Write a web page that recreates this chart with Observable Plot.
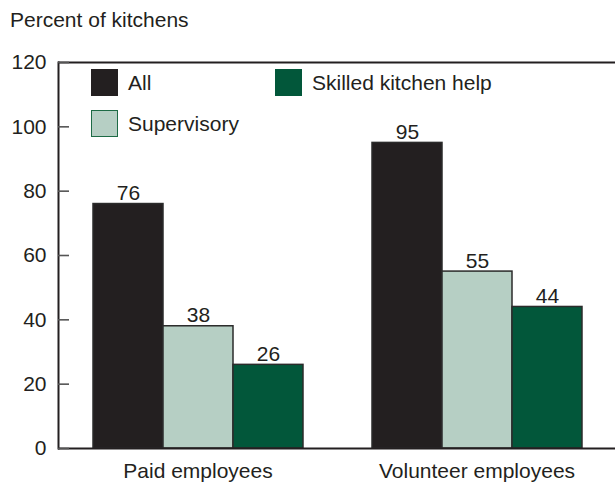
<!DOCTYPE html>
<html>
<head>
<meta charset="utf-8">
<script src="https://cdn.jsdelivr.net/npm/d3@7"></script>
<script src="https://cdn.jsdelivr.net/npm/@observablehq/plot@0.6"></script>
<style>
  html, body { margin: 0; padding: 0; background: #fff; }
  #wrap { position: relative; width: 615px; height: 483px; font-family: "Liberation Sans", Arial, Helvetica, sans-serif; color: #231f20; }
  #title { position: absolute; left: 10px; top: 8px; font-size: 21px; white-space: nowrap; }
  .legend { position: absolute; font-size: 21px; display: flex; align-items: center; white-space: nowrap; }
  .sw { width: 25px; height: 25px; box-sizing: content-box; margin-right: 10px; }
  svg { display: block; }
</style>
</head>
<body>
<div id="wrap">
  <div id="chart"></div>
  <div id="title">Percent of kitchens</div>
  <div id="legend"></div>
</div>
<script>
const groups = ["Paid employees", "Volunteer employees"];
const series = ["All", "Supervisory", "Skilled kitchen help"];
const paid = [76, 38, 26];
const volunteer = [95, 55, 44];
const yTicks = [0, 20, 40, 60, 80, 100, 120];
const colors = ["#231f20", "#b6cfc4", "#02573a"];
const swatchBorders = ["#231f20", "#1d6b45", "#02573a"];

const values = [paid, volunteer];
const data = [];
groups.forEach((g, gi) => series.forEach((s, si) => data.push({group: g, series: s, value: values[gi][si]})));

const chart = Plot.plot({
  width: 615,
  height: 483,
  marginTop: 62,
  marginBottom: 35,
  marginLeft: 57,
  marginRight: -1,
  style: {fontFamily: "'Liberation Sans', Arial, Helvetica, sans-serif", fontSize: "21px", color: "#231f20", background: "white"},
  fx: {domain: groups, padding: 0, label: null},
  x: {domain: series, paddingInner: 0, paddingOuter: 0.485, axis: null},
  y: {domain: [0, 120], ticks: yTicks, label: null},
  color: {domain: series, range: colors},
  marks: [
    Plot.barY(data, {fx: "group", x: "series", y: "value", fill: "series", stroke: "#2b2b2b", strokeWidth: 1.5}),
    Plot.text(data, {fx: "group", x: "series", y: "value", text: d => String(d.value), lineAnchor: "bottom", dy: -4, fill: "#231f20", fontSize: 21}),
    Plot.ruleY([0, 120], {stroke: "#231f20", strokeWidth: 2}),
    Plot.frame({anchor: "left", facetAnchor: "left", stroke: "#231f20", strokeWidth: 2}),
    Plot.axisY({ticks: yTicks, tickSize: 11, tickPadding: 12, dx: 11, fontSize: 21, stroke: "#555555", strokeWidth: 1.6, label: null}),
    Plot.axisFx({anchor: "bottom", tickSize: 0, tickPadding: 15, fontSize: 21, label: null})
  ]
});
document.getElementById("chart").appendChild(chart);

const legendPos = [
  {left: 91, top: 69},
  {left: 91, top: 110},
  {left: 275, top: 69}
];
const legend = document.getElementById("legend");
series.forEach((s, i) => {
  const item = document.createElement("div");
  item.className = "legend";
  item.style.left = legendPos[i].left + "px";
  item.style.top = legendPos[i].top + "px";
  const sw = document.createElement("div");
  sw.className = "sw";
  sw.style.background = colors[i];
  sw.style.border = "1px solid " + swatchBorders[i];
  const label = document.createElement("span");
  label.textContent = s;
  item.appendChild(sw);
  item.appendChild(label);
  legend.appendChild(item);
});
</script>
</body>
</html>
